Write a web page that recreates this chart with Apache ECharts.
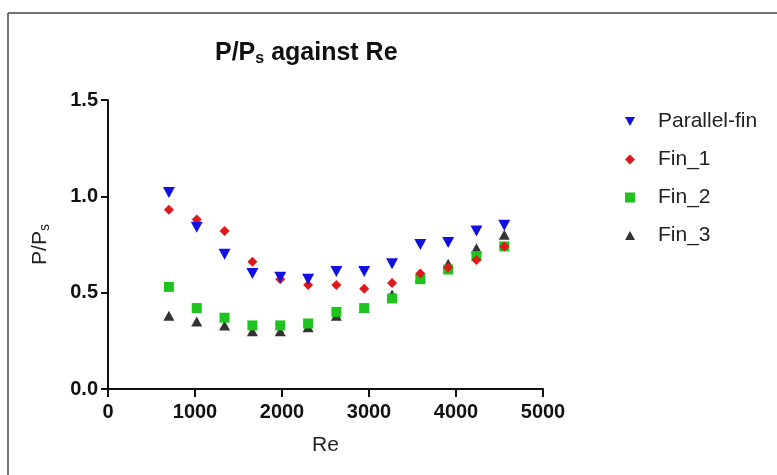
<!DOCTYPE html>
<html>
<head>
<meta charset="utf-8">
<script src="https://cdn.jsdelivr.net/npm/echarts@6/dist/echarts.min.js"></script>
<style>html,body{margin:0;padding:0;background:#fff;}#c{width:777px;height:475px;}</style>
</head>
<body>
<div id="c"></div>
<script>
const reValues = [700, 1020, 1340, 1660, 1980, 2300, 2625, 2945, 3265, 3590, 3910, 4235, 4555];
const parallelFin = [1.02, 0.84, 0.70, 0.60, 0.58, 0.57, 0.61, 0.61, 0.65, 0.75, 0.76, 0.82, 0.85];
const fin1 = [0.93, 0.88, 0.82, 0.66, 0.57, 0.54, 0.54, 0.52, 0.55, 0.60, 0.63, 0.67, 0.74];
const fin2 = [0.53, 0.42, 0.37, 0.33, 0.33, 0.34, 0.40, 0.42, 0.47, 0.57, 0.62, 0.69, 0.74];
const fin3 = [0.38, 0.35, 0.33, 0.30, 0.30, 0.32, 0.38, 0.42, 0.49, 0.58, 0.65, 0.73, 0.80];
const seriesNames = ['Parallel-fin', 'Fin_1', 'Fin_2', 'Fin_3'];
const xTicks = [0, 1000, 2000, 3000, 4000, 5000];
const yTicks = [0.0, 0.5, 1.0, 1.5];

const FONT = 'Liberation Sans, Arial, sans-serif';
const downTri = 'path://M0,0 L10,0 L5,9 Z';
const upTri = 'path://M5,0 L10,9 L0,9 Z';
const pair = (ys) => reValues.map((x, i) => [x, ys[i]]);

const chart = echarts.init(document.getElementById('c'), null, {renderer: 'canvas'});
chart.setOption({
  backgroundColor: '#ffffff',
  animation: false,
  title: {
    text: '{a|P/P}{s|s}{a| against Re}',
    left: 210, top: 34,
    textStyle: {
      rich: {
        a: {fontFamily: FONT, fontSize: 25, fontWeight: 'bold', color: '#111'},
        s: {fontFamily: FONT, fontSize: 16, fontWeight: 'bold', color: '#111', padding: [12, 0, 0, 0]}
      }
    }
  },
  legend: {
    orient: 'vertical',
    left: 620, top: 106,
    itemGap: 17,
    itemWidth: 10, itemHeight: 10,
    textStyle: {fontFamily: FONT, fontSize: 21, color: '#222', padding: [0, 0, 0, 18]},
    data: [
      {name: seriesNames[0], icon: downTri},
      {name: seriesNames[1], icon: 'diamond'},
      {name: seriesNames[2], icon: 'rect'},
      {name: seriesNames[3], icon: upTri}
    ]
  },
  grid: {left: 108, right: 234, top: 100, bottom: 86, containLabel: false},
  xAxis: {
    type: 'value', min: xTicks[0], max: xTicks[xTicks.length - 1], interval: 1000,
    name: 'Re', nameLocation: 'middle', nameGap: 46,
    nameTextStyle: {fontFamily: FONT, fontSize: 21, color: '#222'},
    axisLine: {show: true, onZero: false, lineStyle: {color: '#111', width: 2}},
    axisTick: {show: true, length: 8, lineStyle: {color: '#111', width: 2}},
    axisLabel: {fontFamily: FONT, fontSize: 20, fontWeight: 'bold', color: '#111', margin: 13,
      formatter: v => String(v)},
    splitLine: {show: false}
  },
  yAxis: {
    type: 'value', min: yTicks[0], max: yTicks[yTicks.length - 1], interval: 0.5,
    name: '{a|P/P}{s|s}', nameLocation: 'middle', nameGap: 56, nameRotate: 90,
    nameTextStyle: {
      rich: {
        a: {fontFamily: FONT, fontSize: 21, color: '#222'},
        s: {fontFamily: FONT, fontSize: 14, color: '#222', padding: [10, 0, 0, 0]}
      }
    },
    axisLine: {show: true, onZero: false, lineStyle: {color: '#111', width: 2}},
    axisTick: {show: true, length: 7, lineStyle: {color: '#111', width: 2}},
    axisLabel: {fontFamily: FONT, fontSize: 20, fontWeight: 'bold', color: '#111', margin: 10,
      formatter: v => v.toFixed(1)},
    splitLine: {show: false}
  },
  series: [
    {name: seriesNames[3], type: 'scatter', symbol: upTri, symbolSize: [11, 10], z: 2,
      itemStyle: {color: '#333333', opacity: 1}, data: pair(fin3)},
    {name: seriesNames[2], type: 'scatter', symbol: 'rect', symbolSize: 10, z: 3,
      itemStyle: {color: '#1fc21f', opacity: 1}, data: pair(fin2)},
    {name: seriesNames[1], type: 'scatter', symbol: 'diamond', symbolSize: 10, z: 4,
      itemStyle: {color: '#e01818', opacity: 1}, data: pair(fin1)},
    {name: seriesNames[0], type: 'scatter', symbol: downTri, symbolSize: [12, 11], z: 5,
      itemStyle: {color: '#1010e0', opacity: 1}, data: pair(parallelFin)}
  ],
  graphic: [
    {type: 'line', shape: {x1: 8, y1: 13, x2: 8, y2: 475}, style: {stroke: '#444', lineWidth: 1.5}},
    {type: 'line', shape: {x1: 8, y1: 13, x2: 777, y2: 13}, style: {stroke: '#444', lineWidth: 1.5}}
  ]
});
</script>
</body>
</html>
